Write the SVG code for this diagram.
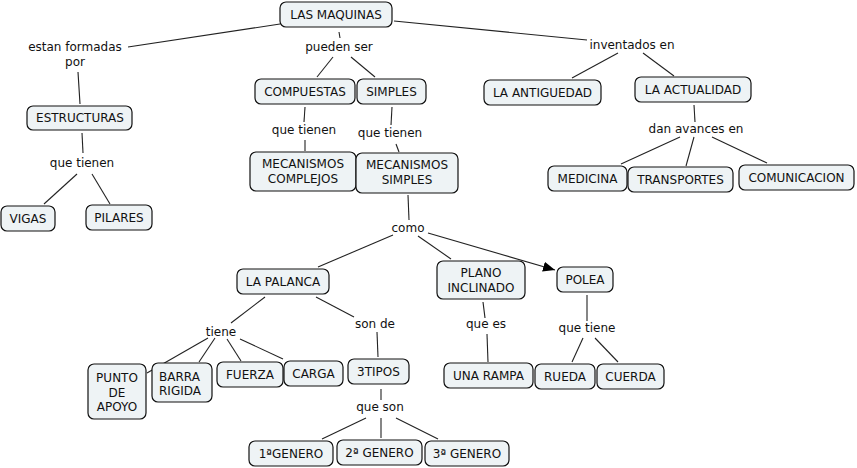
<svg xmlns="http://www.w3.org/2000/svg" width="857" height="468" viewBox="0 0 857 468">
<defs>
<style>
.n rect{fill:#eef3f5;stroke:#111;stroke-width:1.2}
text{font-family:"DejaVu Sans",Verdana,sans-serif;font-size:12px;fill:#111;text-anchor:middle}
.c line{stroke:#222;stroke-width:1.1}
</style>
<marker id="ah" viewBox="0 0 12 10" refX="12" refY="5" markerWidth="12" markerHeight="10" markerUnits="userSpaceOnUse" orient="auto">
<path d="M0,0 L12,5 L0,10 z" fill="#000"/>
</marker>
</defs>
<rect width="857" height="468" fill="#fff"/>
<g id="connectors" class="c">
<line x1="280" y1="24" x2="128" y2="47"/>
<line x1="78" y1="72" x2="80" y2="104"/>
<line x1="82" y1="133" x2="83" y2="153"/>
<line x1="77" y1="174" x2="44" y2="204"/>
<line x1="92" y1="174" x2="110" y2="204"/>
<line x1="339" y1="32" x2="340" y2="38"/>
<line x1="333" y1="57" x2="317" y2="77"/>
<line x1="351" y1="57" x2="375" y2="77"/>
<line x1="305" y1="107" x2="304" y2="122"/>
<line x1="305" y1="140" x2="305" y2="151"/>
<line x1="392" y1="107" x2="391" y2="125"/>
<line x1="396" y1="144" x2="399" y2="152"/>
<line x1="394" y1="21" x2="587" y2="40"/>
<line x1="618" y1="53" x2="572" y2="78"/>
<line x1="643" y1="53" x2="674" y2="76"/>
<line x1="694" y1="105" x2="695" y2="122"/>
<line x1="680" y1="137" x2="621" y2="164"/>
<line x1="694" y1="137" x2="686" y2="166"/>
<line x1="712" y1="137" x2="767" y2="163"/>
<line x1="408" y1="195" x2="409" y2="220"/>
<line x1="393" y1="235" x2="318" y2="267"/>
<line x1="418" y1="236" x2="451" y2="259"/>
<line x1="428" y1="233" x2="555" y2="270" marker-end="url(#ah)"/>
<line x1="265" y1="297" x2="231" y2="323"/>
<line x1="316" y1="297" x2="354" y2="317"/>
<line x1="208" y1="338" x2="147" y2="373"/>
<line x1="215" y1="338" x2="199" y2="362"/>
<line x1="227" y1="339" x2="241" y2="361"/>
<line x1="240" y1="339" x2="283" y2="359"/>
<line x1="377" y1="332" x2="378" y2="357"/>
<line x1="381" y1="389" x2="381" y2="400"/>
<line x1="366" y1="418" x2="322" y2="439"/>
<line x1="381" y1="418" x2="381" y2="438"/>
<line x1="396" y1="418" x2="438" y2="439"/>
<line x1="483" y1="302" x2="485" y2="318"/>
<line x1="487" y1="334" x2="488" y2="362"/>
<line x1="587" y1="295" x2="587" y2="321"/>
<line x1="583" y1="338" x2="572" y2="362"/>
<line x1="595" y1="338" x2="618" y2="362"/>
</g>
<g id="labels">
<text x="75" y="51">estan formadas</text>
<text x="75" y="66">por</text>
<text x="339" y="51">pueden ser</text>
<text x="632" y="49">inventados en</text>
<text x="82" y="167">que tienen</text>
<text x="304" y="134">que tienen</text>
<text x="390" y="137">que tienen</text>
<text x="696" y="133">dan avances en</text>
<text x="408" y="232">como</text>
<text x="221" y="336">tiene</text>
<text x="375" y="328">son de</text>
<text x="380" y="411">que son</text>
<text x="486" y="328">que es</text>
<text x="587" y="332">que tiene</text>
</g>
<g id="n-maquinas" class="n"><rect x="280" y="2" width="112" height="25" rx="6"/><text x="336" y="19">LAS MAQUINAS</text></g>
<g id="n-estructuras" class="n"><rect x="27" y="106" width="105" height="24" rx="6"/><text x="80" y="122">ESTRUCTURAS</text></g>
<g id="n-vigas" class="n"><rect x="1" y="206" width="54" height="25" rx="6"/><text x="28" y="223">VIGAS</text></g>
<g id="n-pilares" class="n"><rect x="86" y="205" width="66" height="25" rx="6"/><text x="119" y="222">PILARES</text></g>
<g id="n-compuestas" class="n"><rect x="255" y="79" width="100" height="25" rx="6"/><text x="305" y="96">COMPUESTAS</text></g>
<g id="n-simples" class="n"><rect x="357" y="79" width="69" height="25" rx="6"/><text x="391.5" y="96">SIMPLES</text></g>
<g id="n-mec-complejos" class="n"><rect x="250" y="152" width="106" height="39" rx="6"/><text x="303" y="167.5">MECANISMOS</text><text x="303" y="182.5">COMPLEJOS</text></g>
<g id="n-mec-simples" class="n"><rect x="356" y="153" width="102" height="40" rx="6"/><text x="407" y="168.5">MECANISMOS</text><text x="407" y="183.5">SIMPLES</text></g>
<g id="n-antiguedad" class="n"><rect x="484" y="80" width="117" height="25" rx="6"/><text x="542.5" y="97">LA ANTIGUEDAD</text></g>
<g id="n-actualidad" class="n"><rect x="635" y="77" width="116" height="25" rx="6"/><text x="693" y="94">LA ACTUALIDAD</text></g>
<g id="n-medicina" class="n"><rect x="548" y="166" width="79" height="25" rx="6"/><text x="587.5" y="183">MEDICINA</text></g>
<g id="n-transportes" class="n"><rect x="628" y="167" width="105" height="25" rx="6"/><text x="680.5" y="184">TRANSPORTES</text></g>
<g id="n-comunicacion" class="n"><rect x="739" y="165" width="115" height="25" rx="6"/><text x="796.5" y="182">COMUNICACION</text></g>
<g id="n-palanca" class="n"><rect x="237" y="269" width="92" height="25" rx="6"/><text x="283" y="286">LA PALANCA</text></g>
<g id="n-plano" class="n"><rect x="437" y="261" width="88" height="38" rx="6"/><text x="481" y="277">PLANO</text><text x="481" y="291.5">INCLINADO</text></g>
<g id="n-polea" class="n"><rect x="557" y="267" width="56" height="25" rx="6"/><text x="585" y="284">POLEA</text></g>
<g id="n-punto" class="n"><rect x="88" y="364" width="58" height="55" rx="6"/><text x="117" y="382">PUNTO</text><text x="117" y="396.5">DE</text><text x="117" y="411">APOYO</text></g>
<g id="n-barra" class="n"><rect x="152" y="363" width="60" height="39" rx="6"/><text x="159" y="380.5" style="text-anchor:start">BARRA</text><text x="159" y="395" style="text-anchor:start">RIGIDA</text></g>
<g id="n-fuerza" class="n"><rect x="217" y="362" width="66" height="25" rx="6"/><text x="250" y="379">FUERZA</text></g>
<g id="n-carga" class="n"><rect x="284" y="361" width="59" height="25" rx="6"/><text x="313.5" y="378">CARGA</text></g>
<g id="n-3tipos" class="n"><rect x="348" y="359" width="61" height="25" rx="6"/><text x="378.5" y="376">3TIPOS</text></g>
<g id="n-rampa" class="n"><rect x="444" y="363" width="89" height="25" rx="6"/><text x="488.5" y="380">UNA RAMPA</text></g>
<g id="n-rueda" class="n"><rect x="535" y="364" width="60" height="25" rx="6"/><text x="565" y="381">RUEDA</text></g>
<g id="n-cuerda" class="n"><rect x="597" y="364" width="67" height="25" rx="6"/><text x="630.5" y="381">CUERDA</text></g>
<g id="n-g1" class="n"><rect x="249" y="441" width="84" height="25" rx="6"/><text x="291" y="458">1ªGENERO</text></g>
<g id="n-g2" class="n"><rect x="337" y="440" width="85" height="25" rx="6"/><text x="379.5" y="457">2ª GENERO</text></g>
<g id="n-g3" class="n"><rect x="425" y="441" width="84" height="25" rx="6"/><text x="467" y="458">3ª GENERO</text></g>
</svg>
